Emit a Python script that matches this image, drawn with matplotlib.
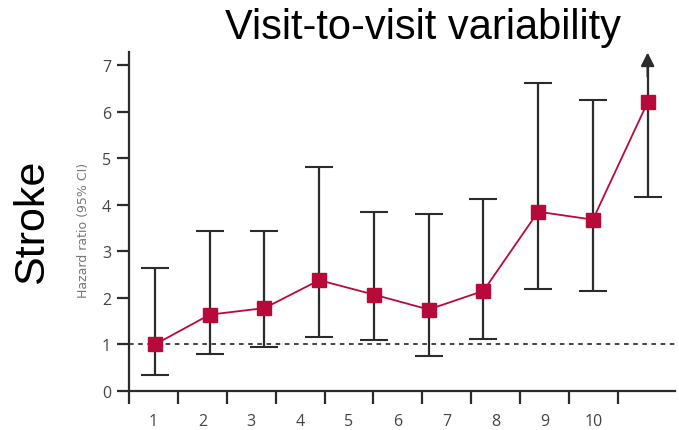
import matplotlib
matplotlib.use("Agg")
import matplotlib.pyplot as plt
import numpy as np

categories = ["1", "2", "3", "4", "5", "6", "7", "8", "9", "10"]
hr = [1.00, 1.64, 1.78, 2.38, 2.07, 1.75, 2.15, 3.85, 3.68, 6.20]
ci_low = [0.35, 0.80, 0.95, 1.17, 1.10, 0.75, 1.12, 2.20, 2.15, 4.17]
ci_high = [2.65, 3.43, 3.43, 4.80, 3.85, 3.80, 4.13, 6.62, 6.25, 7.05]
open_upper = [False] * 9 + [True]
yticks = [0, 1, 2, 3, 4, 5, 6, 7]

W, H = 679, 431
fig = plt.figure(figsize=(W / 100, H / 100), dpi=100)
ax = fig.add_axes([129 / W, 39 / H, (675 - 129) / W, (392 - 53) / H])

x = np.arange(1, len(hr) + 1)
hr_a = np.array(hr)
open_a = np.array(open_upper)

red = "#b8093b"
dark = "#2b2b2b"
ax.axhline(1, color="#111111", lw=1.1, ls=(0, (3, 3)), zorder=1)
ax.vlines(x[~open_a], np.array(ci_low)[~open_a], np.array(ci_high)[~open_a],
          color=dark, lw=1.6, zorder=2)
ax.vlines(x[open_a], np.array(ci_low)[open_a], np.array(ci_high)[open_a] - 0.05,
          color=dark, lw=1.6, zorder=2)
ax.plot(x, ci_low, ls="none", marker="_", ms=20, mew=1.5, color=dark, zorder=2)
ax.plot(x[~open_a], np.array(ci_high)[~open_a], ls="none", marker="_", ms=20,
        mew=1.5, color=dark, zorder=2)
for xi, h, up in zip(x, ci_high, open_upper):
    if up:
        ax.annotate("", xy=(xi, 7.27), xytext=(xi, h - 0.3),
                    arrowprops=dict(arrowstyle="-|>", color=dark,
                                    lw=1.6, mutation_scale=20,
                                    shrinkA=0, shrinkB=0), zorder=2)
ax.plot(x, hr_a, color=red, lw=1.3, zorder=3)
ax.plot(x, hr_a, ls="none", marker="s", ms=10, color=red, zorder=4)

ax.set_xlim(0.525, 10.5)
ax.set_ylim(0, 7.28)
for s in ["top", "right"]:
    ax.spines[s].set_visible(False)
for s in ["left", "bottom"]:
    ax.spines[s].set_linewidth(1.6)
    ax.spines[s].set_color(dark)

ax.set_yticks(yticks)
ax.set_yticklabels([str(v) for v in yticks])
edges = 0.525 + 0.893 * np.arange(11)
ax.set_xticks(edges, minor=True)
ax.set_xticks((edges[:-1] + edges[1:]) / 2)
ax.set_xticklabels(categories)
ax.tick_params(axis="x", which="major", length=0, pad=16)
ax.tick_params(axis="x", which="minor", length=9, width=1.6, color=dark)
ax.tick_params(axis="y", length=9, width=1.6, color=dark, pad=4)
for lab in ax.get_xticklabels() + ax.get_yticklabels():
    lab.set_fontfamily("Open Sans")
    lab.set_fontsize(11.5)
    lab.set_color("#444444")

fig.text(84 / W, 1 - 230 / H, "Hazard ratio (95% CI)", rotation=90,
         ha="center", va="center", fontsize=9, color="#777777",
         family="Liberation Sans Narrow")
fig.text(423 / W, 1 - 28 / H, "Visit-to-visit variability", ha="center",
         va="center", fontsize=30, family="Liberation Sans", color="black")
fig.text(32 / W, 1 - 222 / H, "Stroke", rotation=90, ha="center",
         va="center", fontsize=31, family="Liberation Sans", color="black")

fig.savefig("out.png", dpi=100)
